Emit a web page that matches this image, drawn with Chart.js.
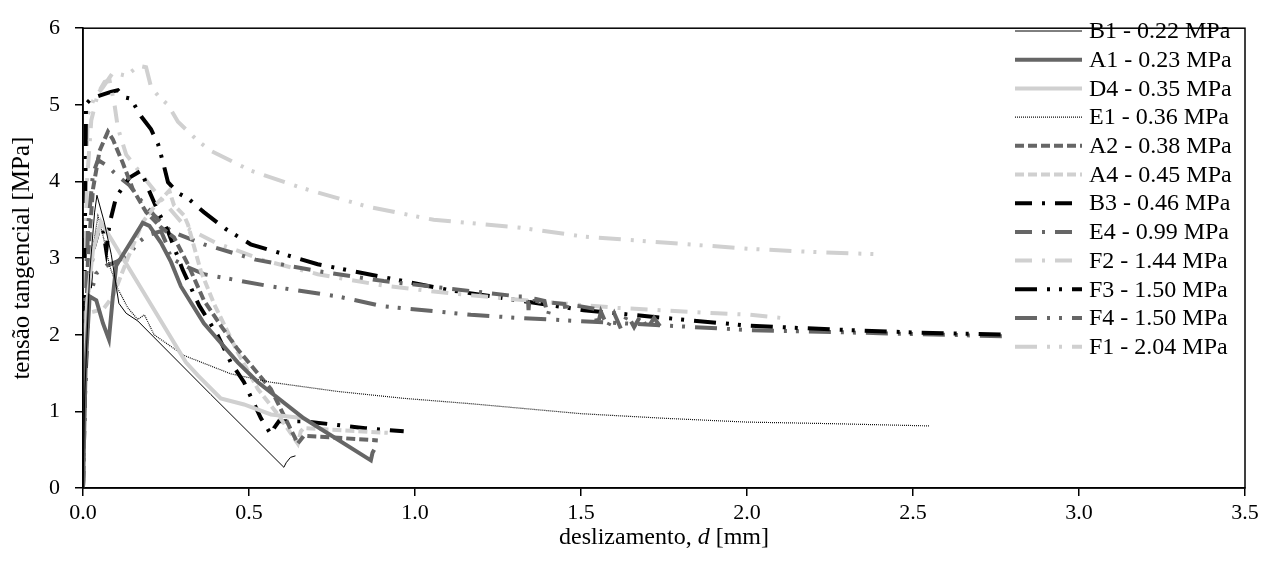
<!DOCTYPE html>
<html>
<head>
<meta charset="utf-8">
<script src="https://cdn.jsdelivr.net/npm/chart.js@4"></script>
<style>
  body { margin: 0; background: #fff; }
  #wrap { width: 1272px; height: 561px; }
</style>
</head>
<body>
<div id="wrap"><canvas id="slipChart" width="1272" height="561"></canvas></div>
<script>
// each point: [deslizamento d (mm), tensão tangencial (MPa)]
const B1 = [[0,0],[0.005,1.2],[0.02,2.8],[0.035,3.6],[0.042,3.82],[0.064,3.47],[0.085,3.05],[0.108,2.41],[0.13,2.28],[0.165,2.18],[0.385,1.22],[0.605,0.27],[0.612,0.33],[0.625,0.4],[0.64,0.42]];
const A1 = [[0,0],[0.008,1.6],[0.02,2.5],[0.04,2.45],[0.06,2.15],[0.078,1.94],[0.09,2.5],[0.1,2.9],[0.14,3.18],[0.18,3.46],[0.2,3.42],[0.235,3.2],[0.265,2.95],[0.295,2.63],[0.364,2.15],[0.466,1.64],[0.527,1.38],[0.665,0.91],[0.867,0.36],[0.872,0.46],[0.877,0.5]];
const D4 = [[0,0],[0.004,1.6],[0.012,2.4],[0.03,3.1],[0.054,3.47],[0.18,2.57],[0.31,1.64],[0.346,1.47],[0.415,1.17],[0.485,1.09],[0.566,0.96],[0.665,0.91]];
const E1 = [[0,0],[0.008,1.6],[0.025,3.0],[0.045,3.55],[0.06,3.3],[0.08,2.9],[0.105,2.6],[0.135,2.35],[0.165,2.2],[0.185,2.26],[0.214,2.0],[0.304,1.73],[0.445,1.49],[0.566,1.38],[0.767,1.26],[0.966,1.17],[1.168,1.1],[1.5,0.97],[1.75,0.91],[2.0,0.86],[2.25,0.84],[2.55,0.81]];
const A2 = [[0,0],[0.005,1.5],[0.015,3.0],[0.03,3.9],[0.05,4.4],[0.075,4.65],[0.09,4.55],[0.12,4.24],[0.15,3.9],[0.19,3.6],[0.235,3.4],[0.274,3.27],[0.316,2.92],[0.364,2.45],[0.415,2.12],[0.466,1.81],[0.566,1.29],[0.647,0.58],[0.665,0.68],[0.75,0.66],[0.888,0.62]];
const A4 = [[0,0],[0.003,1.2],[0.006,2.28],[0.03,2.3],[0.06,2.33],[0.09,2.5],[0.135,3.0],[0.18,3.47],[0.22,3.7],[0.26,3.88],[0.274,3.69],[0.304,3.56],[0.316,3.44],[0.355,2.83],[0.394,2.41],[0.466,1.77],[0.527,1.29],[0.587,0.96],[0.647,0.58],[0.656,0.74],[0.665,0.78],[0.75,0.76],[0.918,0.72]];
const B3 = [[0,0],[0.006,1.2],[0.015,2.3],[0.03,3.1],[0.05,3.4],[0.06,3.38],[0.07,3.1],[0.08,3.45],[0.1,3.8],[0.14,4.05],[0.175,4.14],[0.196,3.91],[0.225,3.62],[0.256,3.35],[0.3,2.85],[0.35,2.38],[0.406,1.99],[0.445,1.64],[0.485,1.38],[0.536,0.91],[0.566,0.7],[0.575,0.78],[0.59,0.87],[0.665,0.87],[0.75,0.83],[0.85,0.78],[0.966,0.74]];
const E4 = [[0,0],[0.005,1.8],[0.015,3.4],[0.03,4.1],[0.045,4.28],[0.075,4.2],[0.093,4.12],[0.114,4.04],[0.14,3.95],[0.175,3.75],[0.214,3.56],[0.265,3.35],[0.364,3.18],[0.52,2.98],[0.707,2.83],[0.906,2.7],[1.107,2.6],[1.31,2.5],[1.34,2.5],[1.342,2.32],[1.345,2.48],[1.36,2.47],[1.365,2.36],[1.37,2.46],[1.39,2.44],[1.4,2.25],[1.41,2.42],[1.45,2.4],[1.455,2.28],[1.46,2.39],[1.5,2.37],[1.54,2.34],[1.55,2.12],[1.56,2.3],[1.58,2.1],[1.6,2.28],[1.62,2.08],[1.64,2.26],[1.66,2.1],[1.68,2.25],[1.7,2.08],[1.72,2.22],[1.74,2.1],[1.75,2.2]];
const F2 = [[0,0],[0.004,2.5],[0.012,4.0],[0.025,4.8],[0.045,5.15],[0.065,5.3],[0.08,5.32],[0.095,5.0],[0.105,4.7],[0.13,4.35],[0.175,4.1],[0.23,3.8],[0.31,3.4],[0.4,3.2],[0.545,2.97],[0.707,2.79],[0.906,2.64],[1.107,2.54],[1.357,2.44],[1.61,2.35],[1.91,2.28],[2.01,2.26],[2.1,2.22]];
const F3 = [[0,0],[0.003,2.0],[0.006,3.5],[0.009,5.01],[0.024,5.08],[0.05,5.12],[0.084,5.17],[0.105,5.19],[0.123,5.1],[0.144,5.08],[0.175,4.85],[0.205,4.68],[0.226,4.49],[0.244,4.2],[0.256,3.99],[0.286,3.85],[0.316,3.78],[0.364,3.6],[0.43,3.38],[0.505,3.18],[0.707,2.92],[0.906,2.75],[1.107,2.58],[1.309,2.45],[1.508,2.32],[1.75,2.22],[2.0,2.12],[2.25,2.07],[2.5,2.03],[2.78,2.0]];
const F4 = [[0,0],[0.005,1.5],[0.015,2.4],[0.04,2.8],[0.07,2.9],[0.1,2.95],[0.14,3.05],[0.165,3.2],[0.195,3.3],[0.235,3.35],[0.25,3.2],[0.265,3.0],[0.316,2.88],[0.364,2.79],[0.566,2.63],[0.767,2.5],[0.906,2.37],[1.168,2.26],[1.31,2.22],[1.71,2.13],[2.01,2.06],[2.4,2.02],[2.78,1.98]];
const F1 = [[0,0],[0.003,2.5],[0.008,4.0],[0.015,4.88],[0.035,5.1],[0.06,5.23],[0.09,5.42],[0.13,5.38],[0.168,5.51],[0.19,5.49],[0.205,5.23],[0.23,5.1],[0.256,5.0],[0.286,4.78],[0.346,4.53],[0.385,4.4],[0.506,4.14],[0.656,3.92],[0.858,3.67],[1.056,3.5],[1.31,3.4],[1.51,3.28],[1.76,3.2],[2.01,3.12],[2.2,3.08],[2.4,3.05]];

const seriesNames = ['B1 - 0.22 MPa', 'A1 - 0.23 MPa', 'D4 - 0.35 MPa', 'E1 - 0.36 MPa', 'A2 - 0.38 MPa', 'A4 - 0.45 MPa',
    'B3 - 0.46 MPa', 'E4 - 0.99 MPa', 'F2 - 1.44 MPa', 'F3 - 1.50 MPa', 'F4 - 1.50 MPa', 'F1 - 2.04 MPa'];
const seriesData = [B1, A1, D4, E1, A2, A4, B3, E4, F2, F3, F4, F1];

const DARK = '#666666';
const LIGHT = '#d0d0d0';
const SERIF = '"Liberation Serif", "Times New Roman", serif';

const DASH = [9, 4];
const DASH_DOT = [17, 10, 3, 10];
const DASH_DOT_DOT = [22, 10, 3, 9, 3, 10];

// colour, width, dash for each series in legend order
const styles = [
    ['#000', 1, []],
    [DARK, 4, []],
    [LIGHT, 4, []],
    ['#111', 1.2, [1, 1]],
    [DARK, 4, DASH],
    [LIGHT, 4, DASH],
    ['#000', 4, DASH_DOT],
    [DARK, 4, DASH_DOT],
    [LIGHT, 4, DASH_DOT],
    ['#000', 4, DASH_DOT_DOT],
    [DARK, 4, DASH_DOT_DOT],
    [LIGHT, 4, DASH_DOT_DOT]
];

const datasets = seriesData.map((pts, i) => ({
    label: seriesNames[i],
    data: pts.map(p => ({ x: p[0], y: p[1] })),
    showLine: true,
    borderColor: styles[i][0],
    borderWidth: styles[i][1],
    borderDash: styles[i][2],
    pointRadius: 0,
    tension: 0,
    fill: false
}));

const whiteBackground = {
    id: 'whiteBackground',
    beforeDraw(chart) {
        const ctx = chart.ctx;
        ctx.save();
        ctx.fillStyle = '#fff';
        ctx.fillRect(0, 0, chart.width, chart.height);
        ctx.restore();
    }
};

// box round the plot, custom legend and the x title with italic d
const decorations = {
    id: 'decorations',
    afterDraw(chart) {
        const ctx = chart.ctx;
        const area = chart.chartArea;
        ctx.save();
        ctx.strokeStyle = '#000';
        ctx.lineWidth = 1.5;
        ctx.strokeRect(area.left, area.top, area.right - area.left, area.bottom - area.top);

        // legend
        ctx.font = '24px ' + SERIF;
        ctx.textBaseline = 'middle';
        ctx.textAlign = 'left';
        chart.data.datasets.forEach((ds, i) => {
            const y = 31 + i * 28.7;
            ctx.beginPath();
            ctx.strokeStyle = ds.borderColor;
            ctx.lineWidth = ds.borderWidth;
            ctx.setLineDash(ds.borderDash);
            ctx.moveTo(1015, y);
            ctx.lineTo(1082, y);
            ctx.stroke();
            ctx.setLineDash([]);
            ctx.fillStyle = '#000';
            ctx.fillText(ds.label, 1089, y + 1);
        });

        // x axis title
        const parts = [['deslizamento, ', ''], ['d', 'italic '], [' [mm]', '']];
        let total = 0;
        parts.forEach(p => { ctx.font = p[1] + '24px ' + SERIF; total += ctx.measureText(p[0]).width; });
        let x = (area.left + area.right) / 2 - total / 2;
        parts.forEach(p => {
            ctx.font = p[1] + '24px ' + SERIF;
            ctx.fillText(p[0], x, 538);
            x += ctx.measureText(p[0]).width;
        });
        ctx.restore();
    }
};

new Chart(document.getElementById('slipChart'), {
    type: 'scatter',
    data: { datasets: datasets },
    options: {
        responsive: false,
        animation: false,
        devicePixelRatio: 1,
        layout: { padding: { top: 20, right: 27, left: 0, bottom: 0 } },
        plugins: {
            legend: { display: false },
            tooltip: { enabled: false }
        },
        scales: {
            x: {
                type: 'linear',
                min: 0,
                max: 3.5,
                afterFit: scale => { scale.height = 73; },
                grid: { drawOnChartArea: false, drawTicks: true, tickLength: 8, color: '#000', lineWidth: 1.5 },
                border: { color: '#000', width: 1.5 },
                ticks: {
                    stepSize: 0.5,
                    padding: 4,
                    color: '#000',
                    font: { family: SERIF, size: 22 },
                    callback: v => v.toFixed(1)
                }
            },
            y: {
                type: 'linear',
                min: 0,
                max: 6,
                afterFit: scale => { scale.width = 83; },
                grid: { drawOnChartArea: false, drawTicks: true, tickLength: 8, color: '#000', lineWidth: 1.5 },
                border: { color: '#000', width: 1.5 },
                title: {
                    display: true,
                    text: 'tensão tangencial [MPa]',
                    color: '#000',
                    font: { family: SERIF, size: 25, lineHeight: 1.2 },
                    padding: { top: 7, bottom: 0 }
                },
                ticks: {
                    stepSize: 1,
                    padding: 15,
                    color: '#000',
                    font: { family: SERIF, size: 22 }
                }
            }
        }
    },
    plugins: [whiteBackground, decorations]
});
</script>
</body>
</html>
